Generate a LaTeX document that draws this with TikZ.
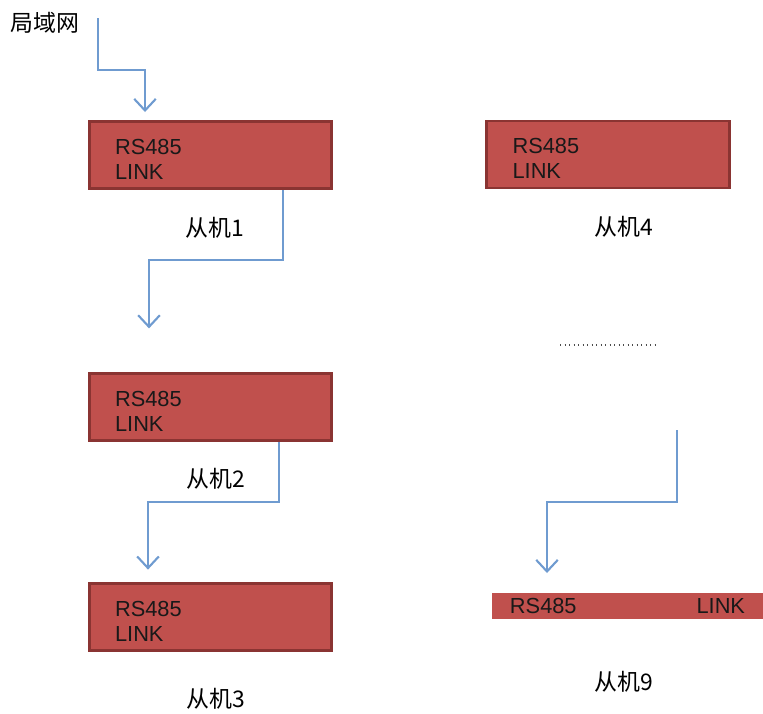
\documentclass[tikz,border=0pt]{standalone}
\usepackage{fontspec}
\setmainfont{Liberation Sans}
\newfontfamily\cjk{Noto Sans CJK SC}
\usetikzlibrary{arrows.meta, positioning}
\definecolor{boxred}{HTML}{C0504D}
\definecolor{boxedge}{HTML}{8A3432}
\definecolor{linkblue}{HTML}{6F9BD0}

\begin{document}
\begin{tikzpicture}[x=0.025cm, y=-0.025cm,
  slavebox/.style={fill=boxred, draw=boxedge, line width=2.1pt, minimum width=6.05cm, minimum height=1.675cm,
    inner xsep=0.64cm, text width=4.77cm, align=left, font=\fontsize{15.5}{17.8}\selectfont, text=black!90,
    execute at begin node={\rule{0pt}{17pt}}},
  link/.style={draw=linkblue, line width=1.5pt, -{Straight Barb[length=2.9mm, width=5.4mm]}},
  tag/.style={font=\cjk\fontsize{16.3}{18}\selectfont}]
  \useasboundingbox (0,0) rectangle (763,713);

  % Slave boxes
  \foreach \name/\x/\y in {b1/210.5/155, b2/210.5/407, b3/210.5/617, b4/608/154.5} {
    \node[slavebox] (\name) at (\x,\y) {RS485\\LINK};
  }

  % Last slave (flat bar)
  \node[fill=boxred, minimum width=6.775cm, minimum height=0.65cm, inner ysep=0pt, inner xsep=0.45cm,
    text width=5.875cm, font=\fontsize{15.5}{17.8}\selectfont, text=black!90] (b9) at (627.5,605.5) {RS485\hfill LINK};

  % Labels
  \node[tag] (lan) at (45,23) {局域网};
  \foreach \name/\x/\y/\txt in {t1/215/228/从机1, t2/216/479/从机2, t3/216/699/从机3, t4/624/227/从机4, t9/624/682/从机9} {
    \node[tag] (\name) at (\x,\y) {\txt};
  }

  % Bus links
  \coordinate (lanin) at (98,18);
  \coordinate (more) at (677,430);
  \draw[link, shorten >=0.2cm] (lanin) -- ++(0,52) -| (b1.north -| 145,0);
  \draw[link, shorten >=1.09cm] (b1.south -| 283,0) -- ++(0,70) -| (b2.north -| 149,0);
  \draw[link, shorten >=0.31cm] (b2.south -| 279,0) -- ++(0,60) -| (b3.north -| 148,0);
  \draw[link, shorten >=0.48cm] (more) -- ++(0,72) -| (b9.north -| 547,0);

  % Omitted slaves
  \draw[gray!60!black, line width=1.3pt, dash pattern=on 1pt off 2.2pt] (560,345) -- (657,345);
\end{tikzpicture}
\end{document}
